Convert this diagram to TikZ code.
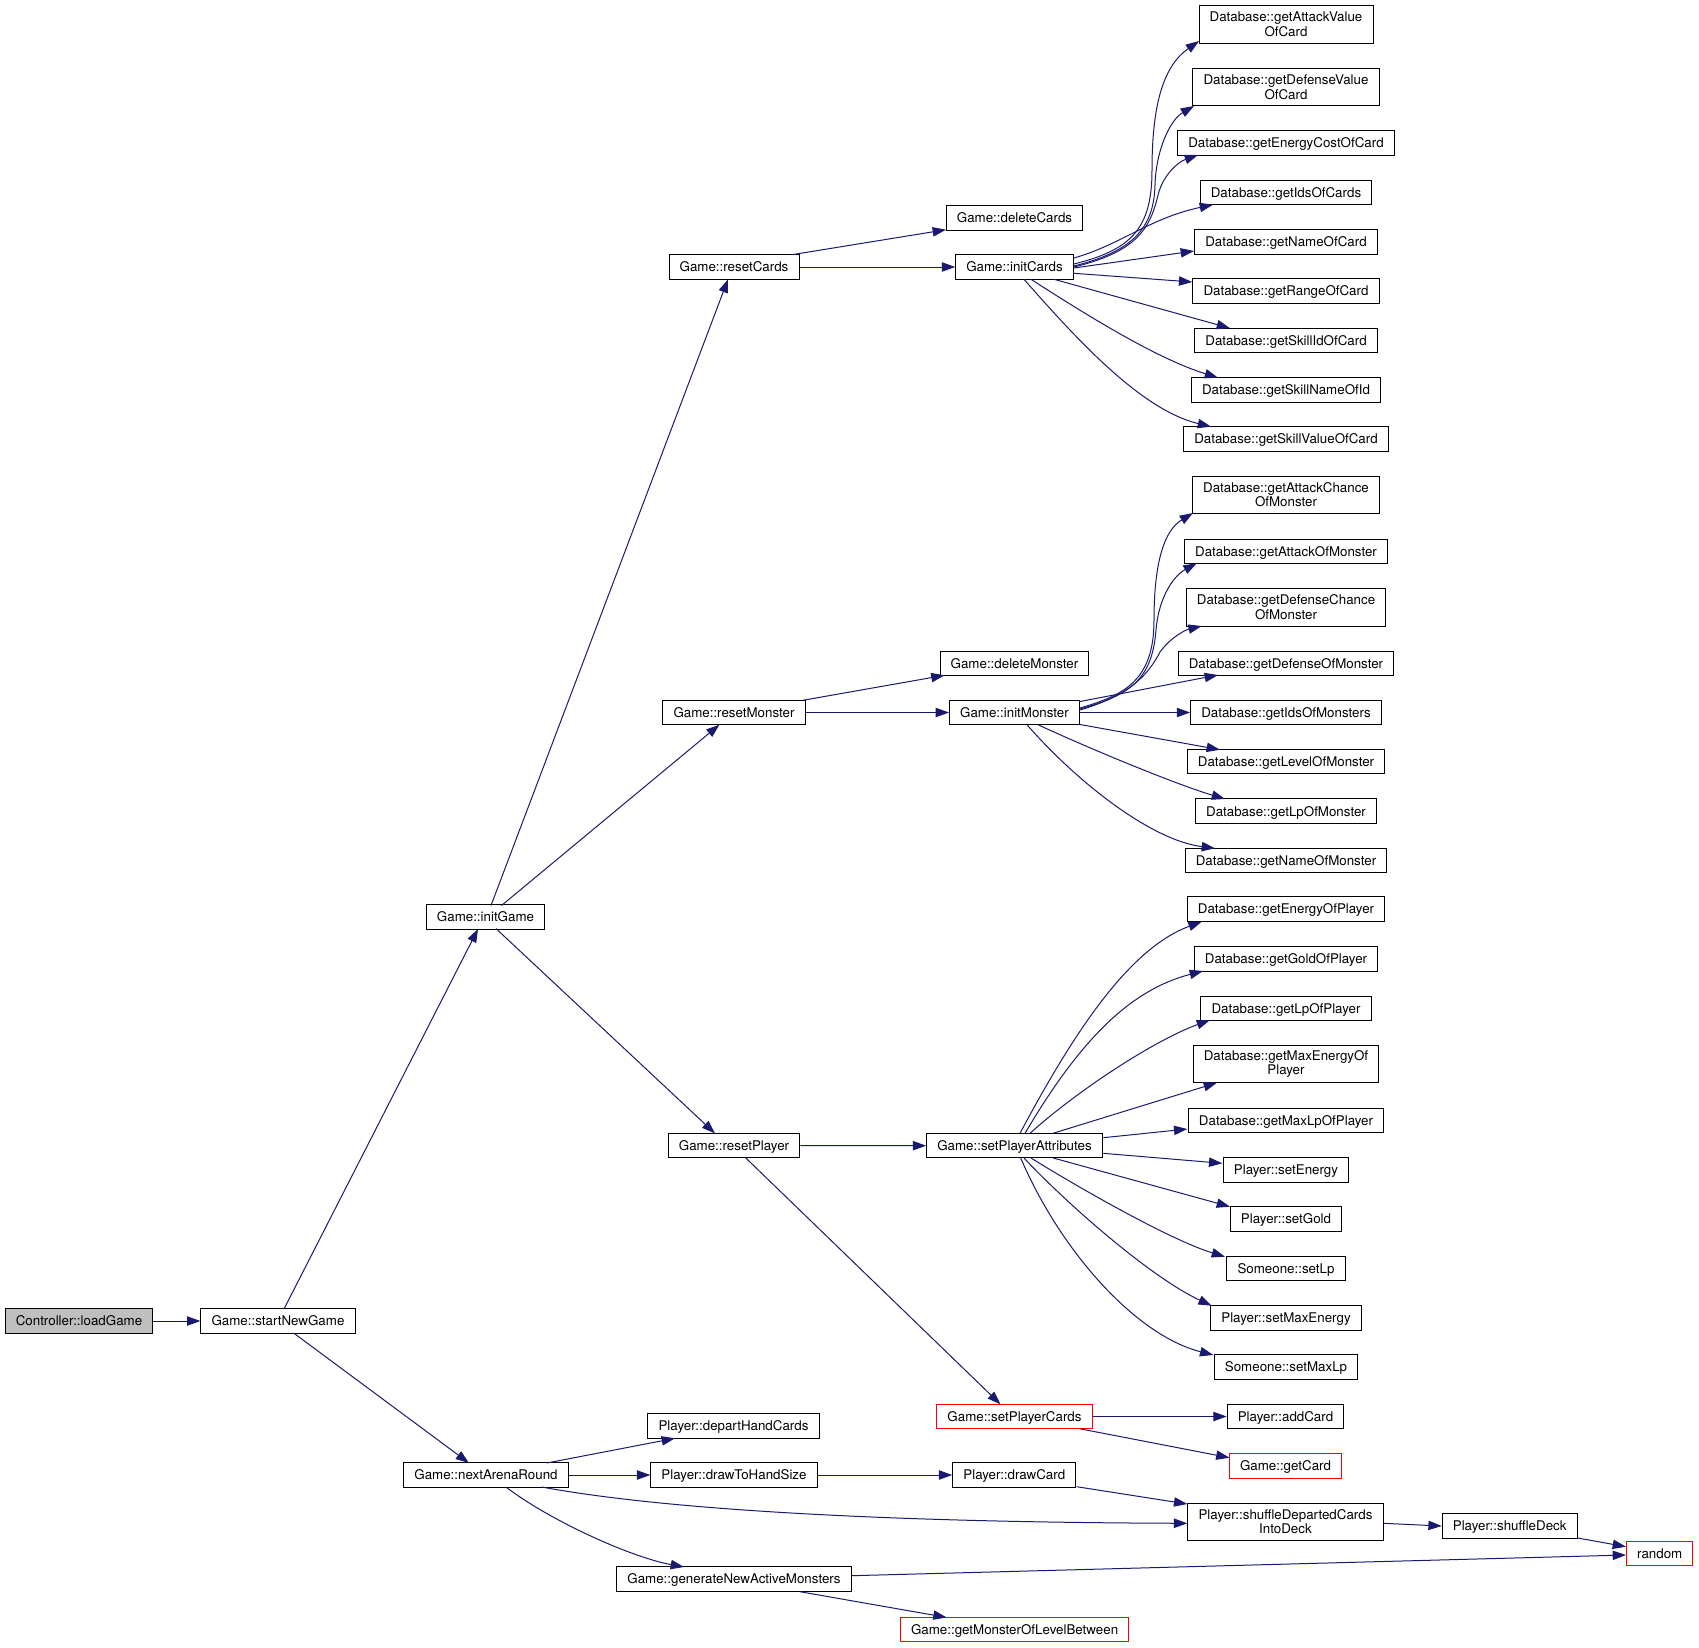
\documentclass[tikz,border=0pt]{standalone}
\usepackage{fontspec}
\setmainfont{TeX Gyre Heros}
\usetikzlibrary{arrows.meta,calc}
\definecolor{edgecol}{HTML}{191970}
\definecolor{rootfill}{HTML}{BFBFBF}
\definecolor{truncred}{HTML}{FF0000}
\begin{document}
\begin{tikzpicture}[x=0.75pt,y=-0.75pt,
  box/.style={draw=black,line width=0.75pt,fill=white,inner xsep=8pt,inner ysep=0pt,minimum height=18.4pt,text height=7.2pt,text depth=0pt,font=\fontsize{10}{10}\selectfont},
  box2/.style={draw=black,line width=0.75pt,fill=white,inner xsep=8pt,inner ysep=0pt,minimum height=28.2pt,align=center,font=\fontsize{10}{10.6}\selectfont},
  trunc/.style={draw=truncred},
  root/.style={fill=rootfill},
  e/.style={draw=edgecol,line width=0.75pt,-{Triangle[length=10pt,width=7pt]}}]
\useasboundingbox (0,0) rectangle (1699,1648);
% nodes
\node[box,root] (lg) at (79,1321) {Controller::loadGame};
\node[box] (sng) at (278,1321) {Game::startNewGame};
\node[box] (ig) at (485.5,917) {Game::initGame};
\node[box] (nar) at (486,1475) {Game::nextArenaRound};
\node[box] (rc) at (734,267) {Game::resetCards};
\node[box] (rm) at (734,712.5) {Game::resetMonster};
\node[box] (rp) at (734,1145.5) {Game::resetPlayer};
\node[box] (dc) at (1014.5,218) {Game::deleteCards};
\node[box] (ic) at (1014.5,267) {Game::initCards};
\node[box] (dm) at (1014.5,663.3) {Game::deleteMonster};
\node[box] (im) at (1014.5,712.5) {Game::initMonster};
\node[box] (spa) at (1014.5,1145.7) {Game::setPlayerAttributes};
\node[box,trunc] (spc) at (1014.5,1416.5) {Game::setPlayerCards};
\node[box] (dhc) at (733.5,1426) {Player::departHandCards};
\node[box] (dths) at (734,1475) {Player::drawToHandSize};
\node[box] (gnam) at (734,1579) {Game::generateNewActiveMonsters};
\node[box] (dcd) at (1014.3,1475) {Player::drawCard};
\node[box,trunc] (gmlb) at (1014.6,1629.7) {Game::getMonsterOfLevelBetween};
\node[box2] (c1) at (1286,24.3) {Database::getAttackValue\\OfCard};
\node[box2] (c2) at (1286,87.2) {Database::getDefenseValue\\OfCard};
\node[box] (c3) at (1286,143) {Database::getEnergyCostOfCard};
\node[box] (c4) at (1286,192.5) {Database::getIdsOfCards};
\node[box] (c5) at (1286,242) {Database::getNameOfCard};
\node[box] (c6) at (1286,291) {Database::getRangeOfCard};
\node[box] (c7) at (1286,340.5) {Database::getSkillIdOfCard};
\node[box] (c8) at (1286,390) {Database::getSkillNameOfId};
\node[box] (c9) at (1286,439) {Database::getSkillValueOfCard};
\node[box2] (m1) at (1286,495) {Database::getAttackChance\\OfMonster};
\node[box] (m2) at (1286,551.3) {Database::getAttackOfMonster};
\node[box2] (m3) at (1286,607.2) {Database::getDefenseChance\\OfMonster};
\node[box] (m4) at (1286,663.3) {Database::getDefenseOfMonster};
\node[box] (m5) at (1286,712.5) {Database::getIdsOfMonsters};
\node[box] (m6) at (1286,761.7) {Database::getLevelOfMonster};
\node[box] (m7) at (1286,811.2) {Database::getLpOfMonster};
\node[box] (m8) at (1286,860.3) {Database::getNameOfMonster};
\node[box] (p1) at (1286,908.8) {Database::getEnergyOfPlayer};
\node[box] (p2) at (1286,958.8) {Database::getGoldOfPlayer};
\node[box] (p3) at (1286,1008.3) {Database::getLpOfPlayer};
\node[box2] (p4) at (1286,1063.8) {Database::getMaxEnergyOf\\Player};
\node[box] (p5) at (1286,1120.7) {Database::getMaxLpOfPlayer};
\node[box] (p6) at (1286,1169.8) {Player::setEnergy};
\node[box] (p7) at (1286,1219) {Player::setGold};
\node[box] (p8) at (1286,1268.5) {Someone::setLp};
\node[box] (p9) at (1286,1318) {Player::setMaxEnergy};
\node[box] (p10) at (1286,1367) {Someone::setMaxLp};
\node[box] (ac) at (1285.5,1416.5) {Player::addCard};
\node[box,trunc] (gc) at (1285.5,1466) {Game::getCard};
\node[box2] (sdc) at (1285.5,1522) {Player::shuffleDepartedCards\\IntoDeck};
\node[box] (sdeck) at (1509.7,1526) {Player::shuffleDeck};
\node[box,trunc] (rnd) at (1659.7,1553.7) {random};
% edges
\draw[e] (lg.east) -- (sng.west);
\draw[e] ($(sng)+(6,-12)$) -- ($(ig)+(-7.5,12)$);
\draw[e] ($(sng)+(15.6,12)$) -- ($(nar)+(-17,-12)$);
\draw[e] ($(ig)+(5.5,-11.5)$) -- ($(rc)+(-6,12.3)$);
\draw[e] ($(ig)+(16,-11.5)$) -- ($(rm)+(-14.6,12.2)$);
\draw[e] ($(ig)+(10.5,11.6)$) -- ($(rp)+(-19,-12.1)$);
\draw[e] ($(rc)+(58,-12.3)$) -- ($(dc)+(-68.5,11.7)$);
\draw[e] (rc.east) -- (ic.west);
\draw[e] ($(rm)+(68.8,-12.2)$) -- ($(dm)+(-70,12)$);
\draw[e] (rm.east) -- (im.west);
\draw[e] (rp.east) -- (spa.west);
\draw[e] ($(rp)+(11,11.7)$) -- ($(spc)+(-14,-12.2)$);
% initCards
\draw[e] ($(ic)+(59.5,-3)$) .. controls (1130,250) and (1152,230) .. (1152,170) .. controls (1152,100) and (1165,65) .. ($(c1)+(-87,16.7)$);
\draw[e] ($(ic)+(59.5,-1)$) .. controls (1130,252) and (1154,230) .. (1155,185) .. controls (1156,150) and (1170,120) .. ($(c2)+(-92,18.8)$);
\draw[e] ($(ic)+(59.5,0)$) .. controls (1135,252) and (1150,230) .. (1158,195) .. controls (1163,175) and (1178,162) .. ($(c3)+(-88,12)$);
\draw[e] ($(ic)+(59.5,-9)$) .. controls (1120,245) and (1150,218) .. ($(c4)+(-73,12.2)$);
\draw[e] ($(ic)+(59.5,1)$) -- ($(c5)+(-92,9)$);
\draw[e] ($(ic)+(59.5,6.3)$) -- ($(c6)+(-93.7,-9)$);
\draw[e] ($(ic)+(39.5,12.3)$) -- ($(c7)+(-56,-12.3)$);
\draw[e] ($(ic)+(16.5,12.3)$) .. controls (1091,318) and (1158,359) .. ($(c8)+(-68,-12.3)$);
\draw[e] ($(ic)+(9.5,12.3)$) .. controls (1079,342) and (1142,410) .. ($(c9)+(-75,-12.3)$);
% initMonster
\draw[e] ($(im)+(65.5,-4.5)$) .. controls (1125,695) and (1154,680) .. (1154,620) .. controls (1154,560) and (1165,530) .. ($(m1)+(-93,18)$);
\draw[e] ($(im)+(65.5,-3.5)$) .. controls (1130,695) and (1152,680) .. (1156,630) .. controls (1159,595) and (1175,575) .. ($(m2)+(-89.3,12)$);
\draw[e] ($(im)+(65.5,-2.5)$) .. controls (1130,695) and (1148,675) .. (1160,652) .. controls (1170,638) and (1185,630) .. ($(m3)+(-84.3,18.8)$);
\draw[e] ($(im)+(65.5,-11)$) -- ($(m4)+(-68,11.7)$);
\draw[e] (im.east) -- (m5.west);
\draw[e] ($(im)+(65.5,12)$) -- ($(m6)+(-66,-12)$);
\draw[e] ($(im)+(23.5,12.2)$) .. controls (1088,748) and (1175,784) .. ($(m7)+(-61,-12.2)$);
\draw[e] ($(im)+(12.5,12.2)$) .. controls (1075,780) and (1150,840) .. ($(m8)+(-71,-12)$);
% setPlayerAttributes
\draw[e] ($(spa)+(5.5,-12.4)$) .. controls (1075,1030) and (1130,948) .. ($(p1)+(-84.3,12.9)$);
\draw[e] ($(spa)+(10.5,-12.4)$) .. controls (1080,1040) and (1130,990) .. ($(p2)+(-83,12.2)$);
\draw[e] ($(spa)+(15.5,-12.4)$) .. controls (1078,1090) and (1155,1040) .. ($(p3)+(-76,11.7)$);
\draw[e] ($(spa)+(38.5,-12.4)$) -- ($(p4)+(-69,18.9)$);
\draw[e] ($(spa)+(88.8,-8)$) -- ($(p5)+(-98.7,8.3)$);
\draw[e] ($(spa)+(88.8,7.6)$) -- ($(p6)+(-63.7,-6.5)$);
\draw[e] ($(spa)+(38.8,12.3)$) -- ($(p7)+(-56,-12.3)$);
\draw[e] ($(spa)+(16.5,12.3)$) .. controls (1076,1186) and (1170,1240) .. ($(p8)+(-61,-11.8)$);
\draw[e] ($(spa)+(9.5,12.3)$) .. controls (1069,1206) and (1152,1278) .. ($(p9)+(-74.3,-12.3)$);
\draw[e] ($(spa)+(6.2,12.3)$) .. controls (1060,1250) and (1135,1335) .. ($(p10)+(-72.7,-12)$);
% bottom
\draw[e] (spc.east) -- (ac.west);
\draw[e] ($(spc)+(65.5,12.3)$) -- ($(gc)+(-56,-8.3)$);
\draw[e] ($(nar)+(60.7,-12)$) -- ($(dhc)+(-58.5,12.3)$);
\draw[e] (nar.east) -- (dths.west);
\draw[e] ($(nar)+(55.7,12)$) .. controls (650,1507) and (850,1522) .. ($(sdc)+(-98.2,1.3)$);
\draw[e] ($(nar)+(20,12)$) .. controls (549,1520) and (630,1557) .. ($(gnam)+(-50,-12)$);
\draw[e] (dths.east) -- (dcd.west);
\draw[e] ($(dcd)+(62.3,11.7)$) -- ($(sdc)+(-98.2,-18)$);
\draw[e] ($(sdc)+(98.1,1.3)$) -- ($(sdeck)+(-68,0)$);
\draw[e] ($(sdeck)+(68,12)$) -- ($(rnd)+(-33.7,-7)$);
\draw[e] ($(gnam)+(118,-3.3)$) -- ($(rnd)+(-33.7,1.3)$);
\draw[e] ($(gnam)+(66,12.7)$) -- ($(gmlb)+(-68,-12.3)$);
\end{tikzpicture}
\end{document}
